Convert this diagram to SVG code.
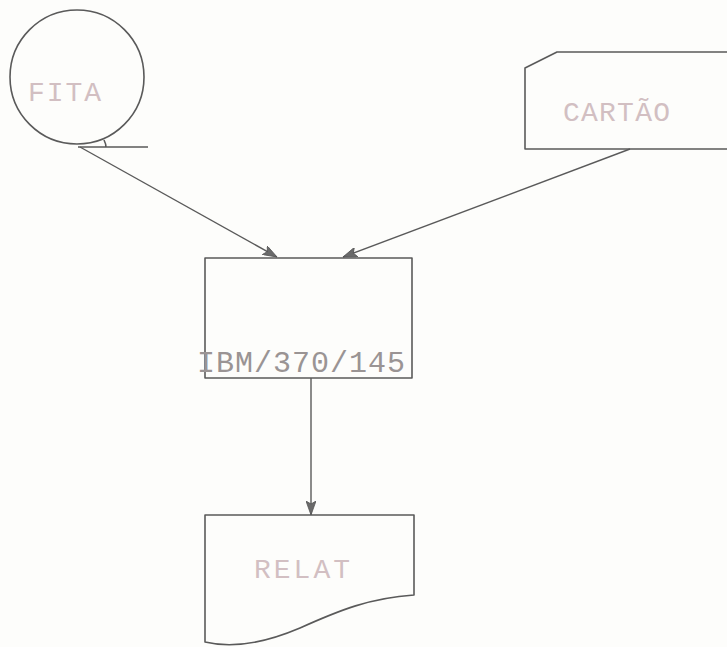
<svg xmlns="http://www.w3.org/2000/svg" width="727" height="647" viewBox="0 0 727 647">
<defs>
<style>
.shape{fill:none;stroke:#5a5a5a;stroke-width:1.6;stroke-linejoin:round}
.conn{fill:none;stroke:#5a5a5a;stroke-width:1.4}
.lbl{font-family:"Liberation Mono",monospace;fill:#d2bfc2}
.lbl2{font-family:"Liberation Mono",monospace;fill:#9a9494}
</style>
<marker id="ah" viewBox="0 0 14 10" refX="14" refY="5" markerWidth="14" markerHeight="10" markerUnits="userSpaceOnUse" orient="auto">
<path d="M0,0 L14,5 L0,10 L3,5 Z" fill="#6a6a6a" stroke="#555" stroke-width="0.8"/>
</marker>
</defs>
<rect width="727" height="647" fill="#fdfdfb"/>
<g id="connectors">
<line class="conn" x1="80" y1="147" x2="277" y2="257" marker-end="url(#ah)"/>
<line class="conn" x1="630" y1="149" x2="343" y2="257" marker-end="url(#ah)"/>
<line class="conn" x1="311" y1="378" x2="311" y2="515" marker-end="url(#ah)"/>
</g>
<g id="fita">
<circle class="shape" cx="77" cy="77" r="67"/>
<path class="shape" d="M104,140 Q106,144 106,147 M78,147 L148,147"/>
<text class="lbl" x="28" y="101" font-size="28" textLength="73">FITA</text>
</g>
<g id="cartao">
<path class="shape" d="M727,52 L557,52 L525,68 L525,149 L727,149"/>
<text class="lbl" x="563" y="121" font-size="28" textLength="107">CARTÃO</text>
</g>
<g id="ibm">
<rect class="shape" x="205" y="258" width="207" height="120"/>
<text class="lbl2" x="197" y="372" font-size="30" textLength="208">IBM/370/145</text>
</g>
<g id="relat">
<path class="shape" d="M205,515 L414,515 L414,595 C370,598 340,610 300,628 C260,645 230,648 205,642 Z"/>
<text class="lbl" x="254" y="578" font-size="28" textLength="96">RELAT</text>
</g>
</svg>
